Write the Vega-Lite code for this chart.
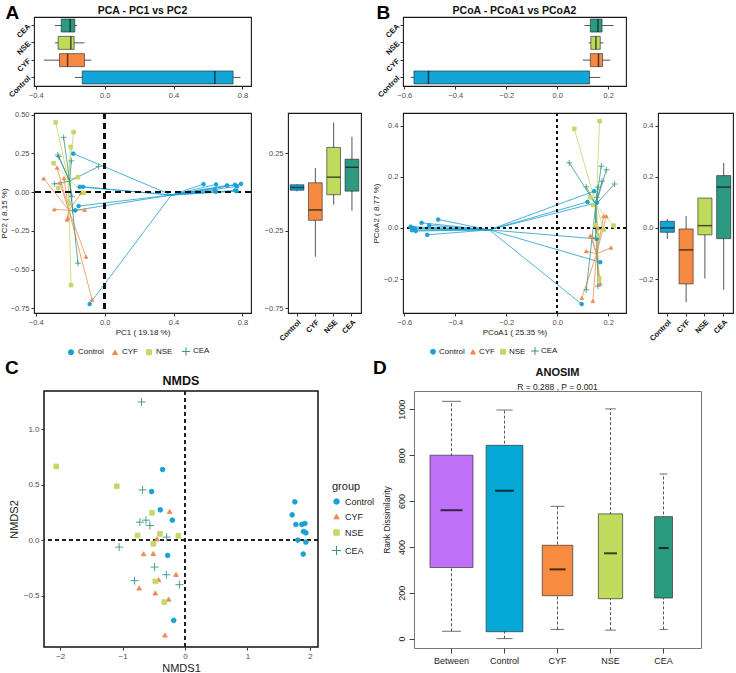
{
 "$schema": "https://vega.github.io/schema/vega-lite/v6.json",
 "background": "white",
 "padding": {"left": -1, "top": 2, "right": 2, "bottom": 0},
 "bounds": "full",
 "spacing": 0,
 "resolve": {"scale": {"color": "independent", "shape": "independent", "stroke": "independent", "size": "independent"}},
 "config": {
  "font": "Liberation Sans",
  "view": {"stroke": "#1a1a1a", "strokeWidth": 1.1},
  "axis": {"grid": false, "domain": false, "labelColor": "#4d4d4d", "labelFontSize": 7.5, "tickColor": "#333", "tickSize": 3, "labelPadding": 2, "titleFontWeight": "normal", "titleFontSize": 8, "titleColor": "#222", "labelFlush": false, "labelOverlap": false},
  "title": {"fontWeight": "bold", "color": "#111", "anchor": "middle"},
  "legend": {"labelColor": "#222"}
 },
 "datasets": {
  "pc1A": [
   {"group": "CEA", "lower": -0.288, "q1": -0.252, "median": -0.2, "q3": -0.173, "upper": -0.16},
   {"group": "NSE", "lower": -0.288, "q1": -0.27, "median": -0.196, "q3": -0.177, "upper": -0.117},
   {"group": "CYF", "lower": -0.352, "q1": -0.262, "median": -0.215, "q3": -0.117, "upper": -0.077},
   {"group": "Control", "lower": -0.173, "q1": -0.13, "median": 0.64, "q3": 0.746, "upper": 0.789}
  ],
  "pc2A": [
   {"group": "Control", "lower": 0.005, "q1": 0.012, "median": 0.03, "q3": 0.047, "upper": 0.05},
   {"group": "CYF", "lower": -0.417, "q1": -0.182, "median": -0.115, "q3": 0.06, "upper": 0.154},
   {"group": "NSE", "lower": -0.081, "q1": -0.017, "median": 0.096, "q3": 0.288, "upper": 0.449},
   {"group": "CEA", "lower": -0.12, "q1": 0.006, "median": 0.16, "q3": 0.212, "upper": 0.357}
  ],
  "pco1B": [
   {"group": "CEA", "lower": 0.107, "q1": 0.13, "median": 0.16, "q3": 0.176, "upper": 0.221},
   {"group": "NSE", "lower": 0.123, "q1": 0.132, "median": 0.152, "q3": 0.169, "upper": 0.182},
   {"group": "CYF", "lower": 0.1, "q1": 0.13, "median": 0.162, "q3": 0.178, "upper": 0.208},
   {"group": "Control", "lower": -0.575, "q1": -0.562, "median": -0.505, "q3": 0.127, "upper": 0.169}
  ],
  "pco2B": [
   {"group": "Control", "lower": -0.043, "q1": -0.017, "median": 0.0, "q3": 0.026, "upper": 0.035},
   {"group": "CYF", "lower": -0.29, "q1": -0.219, "median": -0.086, "q3": -0.004, "upper": 0.046},
   {"group": "NSE", "lower": -0.198, "q1": -0.027, "median": 0.009, "q3": 0.117, "upper": 0.117},
   {"group": "CEA", "lower": -0.242, "q1": -0.042, "median": 0.16, "q3": 0.205, "upper": 0.255}
  ],
  "pca": [
   {"group": "Control", "pc1": 0.574, "pc2": 0.051}, {"group": "Control", "pc1": 0.647, "pc2": 0.049},
   {"group": "Control", "pc1": 0.711, "pc2": 0.043}, {"group": "Control", "pc1": 0.757, "pc2": 0.047},
   {"group": "Control", "pc1": 0.792, "pc2": 0.053}, {"group": "Control", "pc1": 0.769, "pc2": 0.036},
   {"group": "Control", "pc1": 0.642, "pc2": 0.011}, {"group": "Control", "pc1": 0.645, "pc2": 0.002},
   {"group": "Control", "pc1": 0.757, "pc2": 0.011}, {"group": "Control", "pc1": 0.767, "pc2": 0.006},
   {"group": "Control", "pc1": -0.182, "pc2": 0.248}, {"group": "Control", "pc1": -0.145, "pc2": 0.034},
   {"group": "Control", "pc1": -0.126, "pc2": 0.034}, {"group": "Control", "pc1": -0.151, "pc2": -0.09},
   {"group": "Control", "pc1": -0.17, "pc2": -0.118}, {"group": "Control", "pc1": -0.087, "pc2": -0.722},
   {"group": "CYF", "pc1": -0.354, "pc2": 0.088}, {"group": "CYF", "pc1": -0.292, "pc2": -0.111},
   {"group": "CYF", "pc1": -0.276, "pc2": 0.158}, {"group": "CYF", "pc1": -0.26, "pc2": 0.06},
   {"group": "CYF", "pc1": -0.236, "pc2": 0.09}, {"group": "CYF", "pc1": -0.218, "pc2": -0.177},
   {"group": "CYF", "pc1": -0.214, "pc2": -0.167}, {"group": "CYF", "pc1": -0.135, "pc2": -0.006},
   {"group": "CYF", "pc1": -0.116, "pc2": -0.115}, {"group": "CYF", "pc1": -0.108, "pc2": -0.417},
   {"group": "CYF", "pc1": -0.073, "pc2": -0.694},
   {"group": "NSE", "pc1": -0.284, "pc2": 0.449}, {"group": "NSE", "pc1": -0.18, "pc2": 0.387},
   {"group": "NSE", "pc1": -0.197, "pc2": 0.291}, {"group": "NSE", "pc1": -0.296, "pc2": 0.186},
   {"group": "NSE", "pc1": -0.27, "pc2": 0.026}, {"group": "NSE", "pc1": -0.155, "pc2": 0.096},
   {"group": "NSE", "pc1": -0.12, "pc2": -0.006}, {"group": "NSE", "pc1": -0.205, "pc2": -0.075},
   {"group": "NSE", "pc1": -0.195, "pc2": -0.6},
   {"group": "CEA", "pc1": -0.238, "pc2": 0.353}, {"group": "CEA", "pc1": -0.272, "pc2": 0.239},
   {"group": "CEA", "pc1": -0.266, "pc2": 0.229}, {"group": "CEA", "pc1": -0.193, "pc2": 0.201},
   {"group": "CEA", "pc1": -0.292, "pc2": 0.053}, {"group": "CEA", "pc1": -0.035, "pc2": 0.165},
   {"group": "CEA", "pc1": -0.19, "pc2": -0.028}, {"group": "CEA", "pc1": -0.185, "pc2": -0.12},
   {"group": "CEA", "pc1": -0.155, "pc2": -0.459}
  ],
  "pcoa": [
   {"group": "Control", "pco1": -0.467, "pco2": 0.033}, {"group": "Control", "pco1": -0.532, "pco2": 0.02},
   {"group": "Control", "pco1": -0.502, "pco2": 0.01}, {"group": "Control", "pco1": -0.575, "pco2": 0.005},
   {"group": "Control", "pco1": -0.57, "pco2": -0.009}, {"group": "Control", "pco1": -0.558, "pco2": -0.004},
   {"group": "Control", "pco1": -0.565, "pco2": 0.0}, {"group": "Control", "pco1": -0.51, "pco2": -0.027},
   {"group": "Control", "pco1": -0.555, "pco2": -0.012}, {"group": "Control", "pco1": 0.145, "pco2": 0.144},
   {"group": "Control", "pco1": 0.119, "pco2": 0.102}, {"group": "Control", "pco1": 0.156, "pco2": 0.099},
   {"group": "Control", "pco1": 0.169, "pco2": -0.134}, {"group": "Control", "pco1": 0.096, "pco2": -0.298},
   {"group": "Control", "pco1": 0.156, "pco2": -0.043},
   {"group": "CYF", "pco1": 0.182, "pco2": 0.046}, {"group": "CYF", "pco1": 0.193, "pco2": 0.046},
   {"group": "CYF", "pco1": 0.211, "pco2": -0.077}, {"group": "CYF", "pco1": 0.114, "pco2": -0.091},
   {"group": "CYF", "pco1": 0.13, "pco2": -0.03}, {"group": "CYF", "pco1": 0.137, "pco2": -0.035},
   {"group": "CYF", "pco1": 0.169, "pco2": -0.218}, {"group": "CYF", "pco1": 0.14, "pco2": -0.286},
   {"group": "CYF", "pco1": 0.097, "pco2": -0.274}, {"group": "CYF", "pco1": 0.165, "pco2": -0.2},
   {"group": "CYF", "pco1": 0.16, "pco2": 0.0},
   {"group": "NSE", "pco1": 0.067, "pco2": 0.388}, {"group": "NSE", "pco1": 0.166, "pco2": 0.418},
   {"group": "NSE", "pco1": 0.221, "pco2": 0.009}, {"group": "NSE", "pco1": 0.182, "pco2": -0.007},
   {"group": "NSE", "pco1": 0.13, "pco2": 0.12}, {"group": "NSE", "pco1": 0.14, "pco2": 0.09},
   {"group": "NSE", "pco1": 0.16, "pco2": -0.03}, {"group": "NSE", "pco1": 0.165, "pco2": -0.198},
   {"group": "NSE", "pco1": 0.15, "pco2": 0.01},
   {"group": "CEA", "pco1": 0.047, "pco2": 0.255}, {"group": "CEA", "pco1": 0.173, "pco2": 0.242},
   {"group": "CEA", "pco1": 0.193, "pco2": 0.228}, {"group": "CEA", "pco1": 0.176, "pco2": 0.183},
   {"group": "CEA", "pco1": 0.225, "pco2": 0.172}, {"group": "CEA", "pco1": 0.114, "pco2": 0.161},
   {"group": "CEA", "pco1": 0.114, "pco2": -0.242}, {"group": "CEA", "pco1": 0.16, "pco2": -0.228},
   {"group": "CEA", "pco1": 0.155, "pco2": 0.12}, {"group": "CEA", "pco1": 0.15, "pco2": -0.04},
   {"group": "CEA", "pco1": 0.16, "pco2": 0.16}
  ],
  "nmds": [
   {"group": "Control", "nmds1": -0.36, "nmds2": 0.637}, {"group": "Control", "nmds1": -0.536, "nmds2": 0.438},
   {"group": "Control", "nmds1": -0.397, "nmds2": 0.273}, {"group": "Control", "nmds1": -0.204, "nmds2": 0.18},
   {"group": "Control", "nmds1": -0.279, "nmds2": -0.138}, {"group": "Control", "nmds1": -0.182, "nmds2": -0.724},
   {"group": "Control", "nmds1": 1.759, "nmds2": 0.345}, {"group": "Control", "nmds1": 1.716, "nmds2": 0.228},
   {"group": "Control", "nmds1": 1.775, "nmds2": 0.141}, {"group": "Control", "nmds1": 1.871, "nmds2": 0.141},
   {"group": "Control", "nmds1": 1.92, "nmds2": 0.15}, {"group": "Control", "nmds1": 1.898, "nmds2": 0.078},
   {"group": "Control", "nmds1": 1.936, "nmds2": 0.066}, {"group": "Control", "nmds1": 1.807, "nmds2": 0.0},
   {"group": "Control", "nmds1": 1.936, "nmds2": -0.018}, {"group": "Control", "nmds1": 1.893, "nmds2": -0.126},
   {"group": "CYF", "nmds1": -0.247, "nmds2": 0.258}, {"group": "CYF", "nmds1": -0.45, "nmds2": 0.012},
   {"group": "CYF", "nmds1": -0.665, "nmds2": -0.123}, {"group": "CYF", "nmds1": -0.509, "nmds2": -0.12},
   {"group": "CYF", "nmds1": -0.145, "nmds2": -0.309}, {"group": "CYF", "nmds1": -0.424, "nmds2": -0.357},
   {"group": "CYF", "nmds1": -0.735, "nmds2": -0.432}, {"group": "CYF", "nmds1": -0.477, "nmds2": -0.477},
   {"group": "CYF", "nmds1": -0.263, "nmds2": -0.532}, {"group": "CYF", "nmds1": -0.322, "nmds2": -0.856},
   {"group": "NSE", "nmds1": -2.064, "nmds2": 0.664}, {"group": "NSE", "nmds1": -1.094, "nmds2": 0.486},
   {"group": "NSE", "nmds1": -0.531, "nmds2": 0.246}, {"group": "NSE", "nmds1": -0.761, "nmds2": 0.042},
   {"group": "NSE", "nmds1": -0.402, "nmds2": 0.057}, {"group": "NSE", "nmds1": -0.107, "nmds2": 0.039},
   {"group": "NSE", "nmds1": -0.509, "nmds2": -0.033}, {"group": "NSE", "nmds1": -0.477, "nmds2": -0.372},
   {"group": "NSE", "nmds1": -0.332, "nmds2": -0.559},
   {"group": "CEA", "nmds1": -0.697, "nmds2": 1.246}, {"group": "CEA", "nmds1": -0.681, "nmds2": 0.453},
   {"group": "CEA", "nmds1": -0.724, "nmds2": 0.162}, {"group": "CEA", "nmds1": -0.627, "nmds2": 0.18},
   {"group": "CEA", "nmds1": -0.563, "nmds2": 0.132}, {"group": "CEA", "nmds1": -1.056, "nmds2": -0.063},
   {"group": "CEA", "nmds1": -0.295, "nmds2": 0.027}, {"group": "CEA", "nmds1": -0.488, "nmds2": -0.243},
   {"group": "CEA", "nmds1": -0.81, "nmds2": -0.366}, {"group": "CEA", "nmds1": -0.3, "nmds2": -0.312},
   {"group": "CEA", "nmds1": -0.091, "nmds2": -0.402}
  ],
  "anosim": [
   {"group": "Between", "lower": 32, "q1": 310, "median": 560, "q3": 800, "upper": 1035},
   {"group": "Control", "lower": 0, "q1": 30, "median": 645, "q3": 843, "upper": 997},
   {"group": "CYF", "lower": 40, "q1": 187, "median": 302, "q3": 407, "upper": 577},
   {"group": "NSE", "lower": 37, "q1": 174, "median": 372, "q3": 544, "upper": 1002},
   {"group": "CEA", "lower": 40, "q1": 177, "median": 395, "q3": 532, "upper": 718}
  ]
 },
 "vconcat": [
  {
   "bounds": "full", "spacing": 9,
   "resolve": {"scale": {"color": "independent", "shape": "independent", "stroke": "independent", "size": "independent"}},
   "hconcat": [
    {
     "bounds": "flush", "spacing": 27,
     "resolve": {"scale": {"color": "independent", "shape": "independent", "stroke": "independent", "size": "independent"}},
     "vconcat": [
      {
       "width": 217, "height": 69,
       "data": {"name": "pc1A"},
       "title": {"text": "PCA - PC1 vs PC2", "fontSize": 10.5, "offset": -13},
       "encoding": {
        "y": {"field": "group", "type": "nominal", "sort": ["CEA", "NSE", "CYF", "Control"],
              "scale": {"paddingInner": 0.25, "paddingOuter": 0.12},
              "axis": {"title": "A", "titleAngle": 0, "titleX": -29, "titleY": 1, "titleAlign": "left", "titleBaseline": "alphabetic", "titleFontSize": 19, "titleFontWeight": "bold", "titleColor": "#000", "labelAngle": -45, "labelFontWeight": "bold", "labelColor": "#111", "labelFontSize": 7.5}}
       },
       "layer": [
        {"mark": {"type": "rule", "color": "#555", "strokeWidth": 1},
         "encoding": {"x": {"field": "lower", "type": "quantitative", "title": null, "scale": {"domain": [-0.41, 0.85], "nice": false, "zero": false}, "axis": {"values": [-0.4, 0, 0.4, 0.8], "format": ".1f", "title": null}}, "x2": {"field": "upper"}}},
        {"mark": {"type": "bar", "stroke": "#222", "strokeWidth": 0.6},
         "encoding": {"x": {"field": "q1", "type": "quantitative", "title": null, "scale": {"domain": [-0.41, 0.85], "nice": false, "zero": false}}, "x2": {"field": "q3"},
                      "color": {"field": "group", "type": "nominal", "scale": {"domain": ["Control", "CYF", "NSE", "CEA"], "range": ["#12A5D8", "#F78A42", "#BEDB5E", "#2C9A82"]}, "legend": null}}},
        {"mark": {"type": "tick", "color": "#111", "thickness": 1.5, "size": 13},
         "encoding": {"x": {"field": "median", "type": "quantitative", "title": null, "scale": {"domain": [-0.41, 0.85], "nice": false, "zero": false}}}}
       ]
      },
      {
       "bounds": "flush", "spacing": 37,
       "resolve": {"scale": {"color": "independent", "shape": "independent", "stroke": "independent", "size": "independent"}},
       "hconcat": [
        {
         "width": 217, "height": 200,
         "data": {"name": "pca"},
         "layer": [
          {"transform": [{"joinaggregate": [{"op": "mean", "field": "pc1", "as": "cx"}, {"op": "mean", "field": "pc2", "as": "cy"}], "groupby": ["group"]}],
           "mark": {"type": "rule", "strokeWidth": 0.8},
           "encoding": {
            "x": {"field": "cx", "type": "quantitative", "scale": {"domain": [-0.41, 0.85], "nice": false, "zero": false}, "axis": {"values": [-0.4, 0, 0.4, 0.8], "format": ".1f", "title": "PC1 ( 19.18 %)", "titlePadding": 3}},
            "y": {"field": "cy", "type": "quantitative", "scale": {"domain": [-0.78, 0.51], "nice": false, "zero": false}, "axis": {"values": [-0.75, -0.5, -0.25, 0, 0.25, 0.5], "format": ".2f", "title": "PC2 ( 8.15 %)", "titlePadding": 2}},
            "x2": {"field": "pc1"}, "y2": {"field": "pc2"},
            "color": {"field": "group", "type": "nominal", "scale": {"domain": ["Control", "CYF", "NSE", "CEA"], "range": ["#1AA0D2", "#EE8B52", "#C3D86B", "#3A9488"]},
                      "legend": {"orient": "none", "legendX": 33, "legendY": 234, "direction": "horizontal", "title": null, "labelFontSize": 8, "symbolSize": 26, "columnPadding": 6, "labelOffset": 3, "symbolStrokeWidth": 1}}
           }},
          {"mark": {"type": "rule", "strokeDash": [6, 4], "strokeWidth": 2, "color": "#111"},
           "encoding": {"x": {"datum": 0, "type": "quantitative", "scale": {"domain": [-0.41, 0.85], "nice": false, "zero": false}, "axis": {"values": [-0.4, 0, 0.4, 0.8], "format": ".1f", "title": "PC1 ( 19.18 %)", "titlePadding": 3}}}},
          {"mark": {"type": "rule", "strokeDash": [6, 4], "strokeWidth": 2, "color": "#111"},
           "encoding": {"y": {"datum": 0, "type": "quantitative", "scale": {"domain": [-0.78, 0.51], "nice": false, "zero": false}, "axis": {"values": [-0.75, -0.5, -0.25, 0, 0.25, 0.5], "format": ".2f", "title": "PC2 ( 8.15 %)", "titlePadding": 2}}}},
          {"mark": {"type": "point", "filled": true, "size": 14, "strokeWidth": 0.8, "opacity": 1},
           "encoding": {
            "x": {"field": "pc1", "type": "quantitative", "scale": {"domain": [-0.41, 0.85], "nice": false, "zero": false}, "axis": {"values": [-0.4, 0, 0.4, 0.8], "format": ".1f", "title": "PC1 ( 19.18 %)", "titlePadding": 3}},
            "y": {"field": "pc2", "type": "quantitative", "scale": {"domain": [-0.78, 0.51], "nice": false, "zero": false}, "axis": {"values": [-0.75, -0.5, -0.25, 0, 0.25, 0.5], "format": ".2f", "title": "PC2 ( 8.15 %)", "titlePadding": 2}},
            "color": {"field": "group", "type": "nominal", "scale": {"domain": ["Control", "CYF", "NSE", "CEA"], "range": ["#1AA0D2", "#EE8B52", "#C3D86B", "#3A9488"]},
                      "legend": {"orient": "none", "legendX": 33, "legendY": 234, "direction": "horizontal", "title": null, "labelFontSize": 8, "symbolSize": 26, "columnPadding": 6, "labelOffset": 3, "symbolStrokeWidth": 1}},
            "stroke": {"field": "group", "type": "nominal", "scale": {"domain": ["Control", "CYF", "NSE", "CEA"], "range": ["#1AA0D2", "#EE8B52", "#C3D86B", "#3A9488"]},
                      "legend": {"orient": "none", "legendX": 33, "legendY": 234, "direction": "horizontal", "title": null, "labelFontSize": 8, "symbolSize": 26, "columnPadding": 6, "labelOffset": 3, "symbolStrokeWidth": 1}},
            "shape": {"field": "group", "type": "nominal", "scale": {"domain": ["Control", "CYF", "NSE", "CEA"], "range": ["circle", "triangle-up", "square", "M-1.6,0H1.6M0,-1.6V1.6"]},
                      "legend": {"orient": "none", "legendX": 33, "legendY": 234, "direction": "horizontal", "title": null, "labelFontSize": 8, "symbolSize": 26, "columnPadding": 6, "labelOffset": 3, "symbolStrokeWidth": 1}}
           }}
         ]
        },
        {
         "width": 73, "height": 200,
         "data": {"name": "pc2A"},
         "encoding": {
          "x": {"field": "group", "type": "nominal", "sort": ["Control", "CYF", "NSE", "CEA"], "scale": {"paddingInner": 0.25, "paddingOuter": 0.12},
                "axis": {"title": null, "labelAngle": -45, "labelFontWeight": "bold", "labelColor": "#111", "labelFontSize": 7.5}}
         },
         "layer": [
          {"mark": {"type": "rule", "color": "#555", "strokeWidth": 1},
           "encoding": {"y": {"field": "lower", "type": "quantitative", "title": null, "scale": {"domain": [-0.78, 0.51], "nice": false, "zero": false}, "axis": {"values": [-0.75, -0.5, -0.25, 0, 0.25, 0.5], "format": ".2f", "title": null}}, "y2": {"field": "upper"}}},
          {"mark": {"type": "bar", "stroke": "#222", "strokeWidth": 0.6},
           "encoding": {"y": {"field": "q1", "type": "quantitative", "title": null, "scale": {"domain": [-0.78, 0.51], "nice": false, "zero": false}}, "y2": {"field": "q3"},
                        "color": {"field": "group", "type": "nominal", "scale": {"domain": ["Control", "CYF", "NSE", "CEA"], "range": ["#12A5D8", "#F78A42", "#BEDB5E", "#2C9A82"]}, "legend": null}}},
          {"mark": {"type": "tick", "color": "#111", "thickness": 1.5, "size": 13.5},
           "encoding": {"y": {"field": "median", "type": "quantitative", "title": null, "scale": {"domain": [-0.78, 0.51], "nice": false, "zero": false}}}}
         ]
        }
       ]
      }
     ]
    },
    {
     "bounds": "flush", "spacing": 27,
     "resolve": {"scale": {"color": "independent", "shape": "independent", "stroke": "independent", "size": "independent"}},
     "vconcat": [
      {
       "width": 223, "height": 69,
       "data": {"name": "pco1B"},
       "title": {"text": "PCoA - PCoA1 vs PCoA2", "fontSize": 10.5, "offset": -13},
       "encoding": {
        "y": {"field": "group", "type": "nominal", "sort": ["CEA", "NSE", "CYF", "Control"],
              "scale": {"paddingInner": 0.25, "paddingOuter": 0.12},
              "axis": {"title": "B", "titleAngle": 0, "titleX": -27, "titleY": 1, "titleAlign": "left", "titleBaseline": "alphabetic", "titleFontSize": 19, "titleFontWeight": "bold", "titleColor": "#000", "labelAngle": -45, "labelFontWeight": "bold", "labelColor": "#111", "labelFontSize": 7.5}}
       },
       "layer": [
        {"mark": {"type": "rule", "color": "#555", "strokeWidth": 1},
         "encoding": {"x": {"field": "lower", "type": "quantitative", "title": null, "scale": {"domain": [-0.605, 0.27], "nice": false, "zero": false}, "axis": {"values": [-0.6, -0.4, -0.2, 0, 0.2], "format": ".1f", "title": null}}, "x2": {"field": "upper"}}},
        {"mark": {"type": "bar", "stroke": "#222", "strokeWidth": 0.6},
         "encoding": {"x": {"field": "q1", "type": "quantitative", "title": null, "scale": {"domain": [-0.605, 0.27], "nice": false, "zero": false}}, "x2": {"field": "q3"},
                      "color": {"field": "group", "type": "nominal", "scale": {"domain": ["Control", "CYF", "NSE", "CEA"], "range": ["#12A5D8", "#F78A42", "#BEDB5E", "#2C9A82"]}, "legend": null}}},
        {"mark": {"type": "tick", "color": "#111", "thickness": 1.5, "size": 13},
         "encoding": {"x": {"field": "median", "type": "quantitative", "title": null, "scale": {"domain": [-0.605, 0.27], "nice": false, "zero": false}}}}
       ]
      },
      {
       "bounds": "flush", "spacing": 32,
       "resolve": {"scale": {"color": "independent", "shape": "independent", "stroke": "independent", "size": "independent"}},
       "hconcat": [
        {
         "width": 223, "height": 200,
         "data": {"name": "pcoa"},
         "layer": [
          {"transform": [{"joinaggregate": [{"op": "mean", "field": "pco1", "as": "cx"}, {"op": "mean", "field": "pco2", "as": "cy"}], "groupby": ["group"]}],
           "mark": {"type": "rule", "strokeWidth": 0.8},
           "encoding": {
            "x": {"field": "cx", "type": "quantitative", "scale": {"domain": [-0.605, 0.27], "nice": false, "zero": false}, "axis": {"values": [-0.6, -0.4, -0.2, 0, 0.2], "format": ".1f", "title": "PCoA1 ( 25.35 %)", "titlePadding": 3}},
            "y": {"field": "cy", "type": "quantitative", "scale": {"domain": [-0.333, 0.45], "nice": false, "zero": false}, "axis": {"values": [-0.2, 0, 0.2, 0.4], "format": ".1f", "title": "PCoA2 ( 8.77 %)", "titlePadding": 3}},
            "x2": {"field": "pco1"}, "y2": {"field": "pco2"},
            "color": {"field": "group", "type": "nominal", "scale": {"domain": ["Control", "CYF", "NSE", "CEA"], "range": ["#1AA0D2", "#EE8B52", "#C3D86B", "#3A9488"]},
                      "legend": {"orient": "none", "legendX": 26, "legendY": 234, "direction": "horizontal", "title": null, "labelFontSize": 8, "symbolSize": 24, "columnPadding": 3, "labelOffset": 2, "symbolStrokeWidth": 1}}
           }},
          {"mark": {"type": "rule", "strokeDash": [3, 3], "strokeWidth": 1, "color": "#111"},
           "encoding": {"x": {"datum": 0, "type": "quantitative", "scale": {"domain": [-0.605, 0.27], "nice": false, "zero": false}, "axis": {"values": [-0.6, -0.4, -0.2, 0, 0.2], "format": ".1f", "title": "PCoA1 ( 25.35 %)", "titlePadding": 3}}}},
          {"mark": {"type": "rule", "strokeDash": [3, 3], "strokeWidth": 1, "color": "#111"},
           "encoding": {"y": {"datum": 0, "type": "quantitative", "scale": {"domain": [-0.333, 0.45], "nice": false, "zero": false}, "axis": {"values": [-0.2, 0, 0.2, 0.4], "format": ".1f", "title": "PCoA2 ( 8.77 %)", "titlePadding": 3}}}},
          {"mark": {"type": "point", "filled": true, "size": 14, "strokeWidth": 0.8, "opacity": 1},
           "encoding": {
            "x": {"field": "pco1", "type": "quantitative", "scale": {"domain": [-0.605, 0.27], "nice": false, "zero": false}, "axis": {"values": [-0.6, -0.4, -0.2, 0, 0.2], "format": ".1f", "title": "PCoA1 ( 25.35 %)", "titlePadding": 3}},
            "y": {"field": "pco2", "type": "quantitative", "scale": {"domain": [-0.333, 0.45], "nice": false, "zero": false}, "axis": {"values": [-0.2, 0, 0.2, 0.4], "format": ".1f", "title": "PCoA2 ( 8.77 %)", "titlePadding": 3}},
            "color": {"field": "group", "type": "nominal", "scale": {"domain": ["Control", "CYF", "NSE", "CEA"], "range": ["#1AA0D2", "#EE8B52", "#C3D86B", "#3A9488"]},
                      "legend": {"orient": "none", "legendX": 26, "legendY": 234, "direction": "horizontal", "title": null, "labelFontSize": 8, "symbolSize": 24, "columnPadding": 3, "labelOffset": 2, "symbolStrokeWidth": 1}},
            "stroke": {"field": "group", "type": "nominal", "scale": {"domain": ["Control", "CYF", "NSE", "CEA"], "range": ["#1AA0D2", "#EE8B52", "#C3D86B", "#3A9488"]},
                      "legend": {"orient": "none", "legendX": 26, "legendY": 234, "direction": "horizontal", "title": null, "labelFontSize": 8, "symbolSize": 24, "columnPadding": 3, "labelOffset": 2, "symbolStrokeWidth": 1}},
            "shape": {"field": "group", "type": "nominal", "scale": {"domain": ["Control", "CYF", "NSE", "CEA"], "range": ["circle", "triangle-up", "square", "M-1.6,0H1.6M0,-1.6V1.6"]},
                      "legend": {"orient": "none", "legendX": 26, "legendY": 234, "direction": "horizontal", "title": null, "labelFontSize": 8, "symbolSize": 24, "columnPadding": 3, "labelOffset": 2, "symbolStrokeWidth": 1}}
           }}
         ]
        },
        {
         "width": 75, "height": 200,
         "data": {"name": "pco2B"},
         "encoding": {
          "x": {"field": "group", "type": "nominal", "sort": ["Control", "CYF", "NSE", "CEA"], "scale": {"paddingInner": 0.25, "paddingOuter": 0.12},
                "axis": {"title": null, "labelAngle": -45, "labelFontWeight": "bold", "labelColor": "#111", "labelFontSize": 7.5}}
         },
         "layer": [
          {"mark": {"type": "rule", "color": "#555", "strokeWidth": 1},
           "encoding": {"y": {"field": "lower", "type": "quantitative", "title": null, "scale": {"domain": [-0.333, 0.45], "nice": false, "zero": false}, "axis": {"values": [-0.2, 0, 0.2, 0.4], "format": ".1f", "title": null}}, "y2": {"field": "upper"}}},
          {"mark": {"type": "bar", "stroke": "#222", "strokeWidth": 0.6},
           "encoding": {"y": {"field": "q1", "type": "quantitative", "title": null, "scale": {"domain": [-0.333, 0.45], "nice": false, "zero": false}}, "y2": {"field": "q3"},
                        "color": {"field": "group", "type": "nominal", "scale": {"domain": ["Control", "CYF", "NSE", "CEA"], "range": ["#12A5D8", "#F78A42", "#BEDB5E", "#2C9A82"]}, "legend": null}}},
          {"mark": {"type": "tick", "color": "#111", "thickness": 1.5, "size": 14},
           "encoding": {"y": {"field": "median", "type": "quantitative", "title": null, "scale": {"domain": [-0.333, 0.45], "nice": false, "zero": false}}}}
         ]
        }
       ]
      }
     ]
    }
   ]
  },
  {
   "bounds": "flush", "spacing": 9,
   "resolve": {"scale": {"color": "independent", "shape": "independent", "stroke": "independent", "size": "independent"}},
   "hconcat": [
    {
     "width": 1, "height": 1,
     "data": {"values": []},
     "mark": "point",
     "view": {"stroke": null},
     "title": {"text": "C", "anchor": "start", "dx": -29, "offset": -2, "fontSize": 19, "baseline": "alphabetic", "color": "#000"}
    },
    {
     "width": 274, "height": 256,
     "data": {"name": "nmds"},
     "title": {"text": "NMDS", "fontSize": 12.5, "offset": 3},
     "view": {"stroke": "#111", "strokeWidth": 1.5},
     "layer": [
      {"mark": {"type": "rule", "strokeDash": [4, 3], "strokeWidth": 1.2, "color": "#222"},
       "encoding": {"x": {"datum": 0, "type": "quantitative", "scale": {"domain": [-2.26, 2.13], "nice": false, "zero": false}, "axis": {"values": [-2, -1, 0, 1, 2], "format": "d", "title": "NMDS1", "titleFontSize": 11, "labelFontSize": 8, "titlePadding": 2}}}},
      {"mark": {"type": "rule", "strokeDash": [4, 3], "strokeWidth": 1.2, "color": "#222"},
       "encoding": {"y": {"datum": 0, "type": "quantitative", "scale": {"domain": [-0.964, 1.345], "nice": false, "zero": false}, "axis": {"values": [-0.5, 0, 0.5, 1], "format": ".1f", "title": "NMDS2", "titleFontSize": 11, "labelFontSize": 8, "titlePadding": 4}}}},
      {"mark": {"type": "point", "filled": true, "size": 22, "strokeWidth": 0.9, "opacity": 1},
       "encoding": {
        "x": {"field": "nmds1", "type": "quantitative", "scale": {"domain": [-2.26, 2.13], "nice": false, "zero": false}, "axis": {"values": [-2, -1, 0, 1, 2], "format": "d", "title": "NMDS1", "titleFontSize": 11, "labelFontSize": 8, "titlePadding": 2}},
        "y": {"field": "nmds2", "type": "quantitative", "scale": {"domain": [-0.964, 1.345], "nice": false, "zero": false}, "axis": {"values": [-0.5, 0, 0.5, 1], "format": ".1f", "title": "NMDS2", "titleFontSize": 11, "labelFontSize": 8, "titlePadding": 4}},
        "color": {"field": "group", "type": "nominal", "title": "group", "scale": {"domain": ["Control", "CYF", "NSE", "CEA"], "range": ["#1AA0D2", "#EE8B52", "#C3D86B", "#3A9488"]},
                  "legend": {"orient": "none", "legendX": 288, "legendY": 90, "title": "group", "titleFontSize": 11, "titleFontWeight": "normal", "titleColor": "#222", "labelFontSize": 9, "symbolSize": 30, "symbolStrokeWidth": 1, "rowPadding": 5}},
        "stroke": {"field": "group", "type": "nominal", "title": "group", "scale": {"domain": ["Control", "CYF", "NSE", "CEA"], "range": ["#1AA0D2", "#EE8B52", "#C3D86B", "#3A9488"]},
                  "legend": {"orient": "none", "legendX": 288, "legendY": 90, "title": "group", "titleFontSize": 11, "titleFontWeight": "normal", "titleColor": "#222", "labelFontSize": 9, "symbolSize": 30, "symbolStrokeWidth": 1, "rowPadding": 5}},
        "shape": {"field": "group", "type": "nominal", "title": "group", "scale": {"domain": ["Control", "CYF", "NSE", "CEA"], "range": ["circle", "triangle-up", "square", "M-1.7,0H1.7M0,-1.7V1.7"]},
                  "legend": {"orient": "none", "legendX": 288, "legendY": 90, "title": "group", "titleFontSize": 11, "titleFontWeight": "normal", "titleColor": "#222", "labelFontSize": 9, "symbolSize": 30, "symbolStrokeWidth": 1, "rowPadding": 5}}
       }}
     ]
    },
    {
     "width": 78, "height": 1,
     "data": {"values": []},
     "mark": "point",
     "view": {"stroke": null},
     "title": {"text": "D", "anchor": "start", "dx": 46, "offset": -2, "fontSize": 19, "baseline": "alphabetic", "color": "#000"}
    },
    {
     "width": 287, "height": 257,
     "data": {"name": "anosim"},
     "title": {"text": "ANOSIM", "subtitle": "R =  0.288 ,  P =  0.001", "fontSize": 11, "subtitleFontSize": 8.5, "subtitleColor": "#222", "offset": 0, "subtitlePadding": 5},
     "view": {"stroke": "#777", "strokeWidth": 1},
     "encoding": {
      "x": {"field": "group", "type": "nominal", "sort": ["Between", "Control", "CYF", "NSE", "CEA"], "scale": {"paddingInner": 0, "paddingOuter": 0.2075},
            "axis": {"title": null, "labelAngle": 0, "labelFontSize": 9, "labelColor": "#222", "tickSize": 5, "tickColor": "#444", "labelPadding": 3}}
     },
     "layer": [
      {"mark": {"type": "rule", "strokeDash": [3, 2], "color": "#444", "strokeWidth": 0.9},
       "encoding": {"y": {"field": "lower", "type": "quantitative", "scale": {"domain": [-41, 1080], "nice": false, "zero": false},
                          "axis": {"values": [0, 200, 400, 600, 800, 1000], "format": "d", "labelAngle": -90, "title": "Rank Dissimilarity", "titleFontSize": 8.5, "labelFontSize": 9, "labelColor": "#222", "tickSize": 5, "tickColor": "#444", "titlePadding": 6, "labelPadding": 3}},
                    "y2": {"field": "upper"}}},
      {"mark": {"type": "tick", "color": "#333", "thickness": 1},
       "encoding": {"y": {"field": "lower", "type": "quantitative", "title": "Rank Dissimilarity", "scale": {"domain": [-41, 1080], "nice": false, "zero": false}},
                    "size": {"field": "group", "type": "nominal", "scale": {"domain": ["Between", "Control", "CYF", "NSE", "CEA"], "range": [19, 8, 5, 5, 5]}, "legend": null}}},
      {"mark": {"type": "tick", "color": "#333", "thickness": 1},
       "encoding": {"y": {"field": "upper", "type": "quantitative", "title": "Rank Dissimilarity", "scale": {"domain": [-41, 1080], "nice": false, "zero": false}},
                    "size": {"field": "group", "type": "nominal", "scale": {"domain": ["Between", "Control", "CYF", "NSE", "CEA"], "range": [19, 8, 5, 5, 5]}, "legend": null}}},
      {"mark": {"type": "bar", "stroke": "#333", "strokeWidth": 0.7},
       "encoding": {"y": {"field": "q1", "type": "quantitative", "title": "Rank Dissimilarity", "scale": {"domain": [-41, 1080], "nice": false, "zero": false}}, "y2": {"field": "q3"},
                    "color": {"field": "group", "type": "nominal", "scale": {"domain": ["Between", "Control", "CYF", "NSE", "CEA"], "range": ["#BF72F7", "#05A7D4", "#F78B40", "#C0DC5C", "#2A9B80"]}, "legend": null},
                    "size": {"field": "group", "type": "nominal", "scale": {"domain": ["Between", "Control", "CYF", "NSE", "CEA"], "range": [43, 18, 11, 10, 11]}, "legend": null}}},
      {"mark": {"type": "tick", "color": "#000", "thickness": 2},
       "encoding": {"y": {"field": "median", "type": "quantitative", "title": "Rank Dissimilarity", "scale": {"domain": [-41, 1080], "nice": false, "zero": false}},
                    "size": {"field": "group", "type": "nominal", "scale": {"domain": ["Between", "Control", "CYF", "NSE", "CEA"], "range": [22, 10, 6, 6, 6]}, "legend": null}}}
     ],
     "resolve": {"scale": {"size": "independent"}}
    }
   ]
  }
 ]
}
